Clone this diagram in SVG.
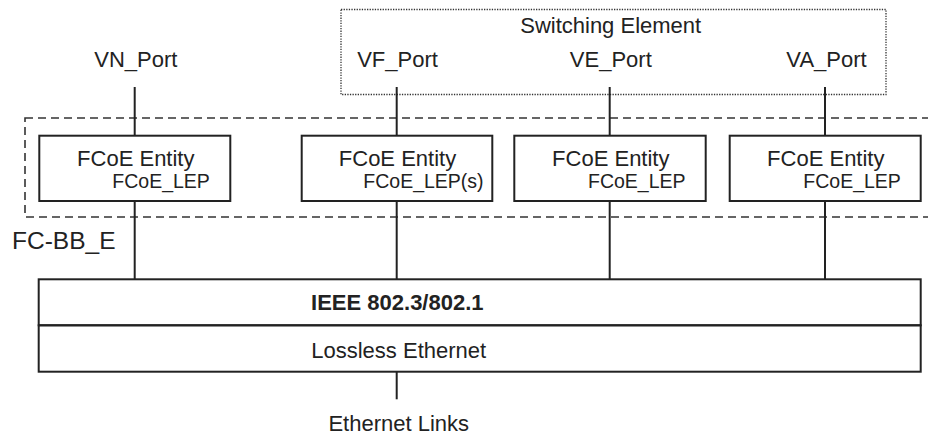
<svg xmlns="http://www.w3.org/2000/svg" width="928" height="435" viewBox="0 0 928 435">
<style>
text{font-family:"Liberation Sans",Arial,sans-serif;fill:#222;}
.t{font-size:22px;}
.s{font-size:19.5px;}
.box{fill:none;stroke:#222;stroke-width:2;}
.ln{stroke:#222;stroke-width:2;fill:none;}
</style>
<rect width="928" height="435" fill="#fff"/>
<g id="switching-element">
<rect x="341" y="9.5" width="545" height="85" fill="none" stroke="#333" stroke-width="1.3" stroke-dasharray="1.3 1.3"/>
<text class="t" x="610.7" y="33" text-anchor="middle">Switching Element</text>
</g>
<g id="fc-bb-e">
<rect x="25" y="118" width="930" height="99" fill="none" stroke="#333" stroke-width="1.6" stroke-dasharray="8 5"/>
<text x="12" y="249.3" style="font-size:24.5px">FC-BB_E</text>
</g>
<g id="connectors">
<line class="ln" x1="134.7" y1="87" x2="134.7" y2="136"/>
<line class="ln" x1="396.7" y1="87" x2="396.7" y2="136"/>
<line class="ln" x1="609.7" y1="87" x2="609.7" y2="136"/>
<line class="ln" x1="825" y1="87" x2="825" y2="136"/>
<line class="ln" x1="134.7" y1="201" x2="134.7" y2="279.3"/>
<line class="ln" x1="396.7" y1="201" x2="396.7" y2="279.3"/>
<line class="ln" x1="609.7" y1="201" x2="609.7" y2="279.3"/>
<line class="ln" x1="825" y1="201" x2="825" y2="279.3"/>
<line class="ln" x1="396.7" y1="371.7" x2="396.7" y2="399.3"/>
</g>
<g id="ports">
<text class="t" x="135.8" y="66.5" text-anchor="middle">VN_Port</text>
<text class="t" x="397.5" y="66.5" text-anchor="middle">VF_Port</text>
<text class="t" x="610.8" y="66.5" text-anchor="middle">VE_Port</text>
<text class="t" x="826.5" y="66.5" text-anchor="middle">VA_Port</text>
</g>
<g id="entity1">
<rect class="box" x="39.3" y="135.7" width="191" height="65.3" fill="#fff"/>
<text class="t" x="135.8" y="165.7" text-anchor="middle">FCoE Entity</text>
<text class="s" x="112.3" y="187.7">FCoE_LEP</text>
</g>
<g id="entity2">
<rect class="box" x="301.7" y="135.7" width="190.6" height="65.3"/>
<text class="t" x="397.5" y="165.7" text-anchor="middle">FCoE Entity</text>
<text class="s" x="363.3" y="187.7">FCoE_LEP(s)</text>
</g>
<g id="entity3">
<rect class="box" x="514.3" y="135.7" width="191.4" height="65.3"/>
<text class="t" x="610.8" y="165.7" text-anchor="middle">FCoE Entity</text>
<text class="s" x="588" y="187.7">FCoE_LEP</text>
</g>
<g id="entity4">
<rect class="box" x="729.7" y="135.7" width="191" height="65.3"/>
<text class="t" x="825.8" y="165.7" text-anchor="middle">FCoE Entity</text>
<text class="s" x="803.3" y="187.7">FCoE_LEP</text>
</g>
<g id="ieee">
<rect class="box" x="38.7" y="279.3" width="882" height="46"/>
<text class="t" x="397.3" y="310" text-anchor="middle" font-weight="bold">IEEE 802.3/802.1</text>
</g>
<g id="lossless">
<rect class="box" x="38.7" y="325.3" width="882" height="46.4"/>
<text class="t" x="398.7" y="358.3" text-anchor="middle">Lossless Ethernet</text>
</g>
<g id="ethernet-links">
<text class="t" x="398.7" y="431" text-anchor="middle">Ethernet Links</text>
</g>
</svg>
